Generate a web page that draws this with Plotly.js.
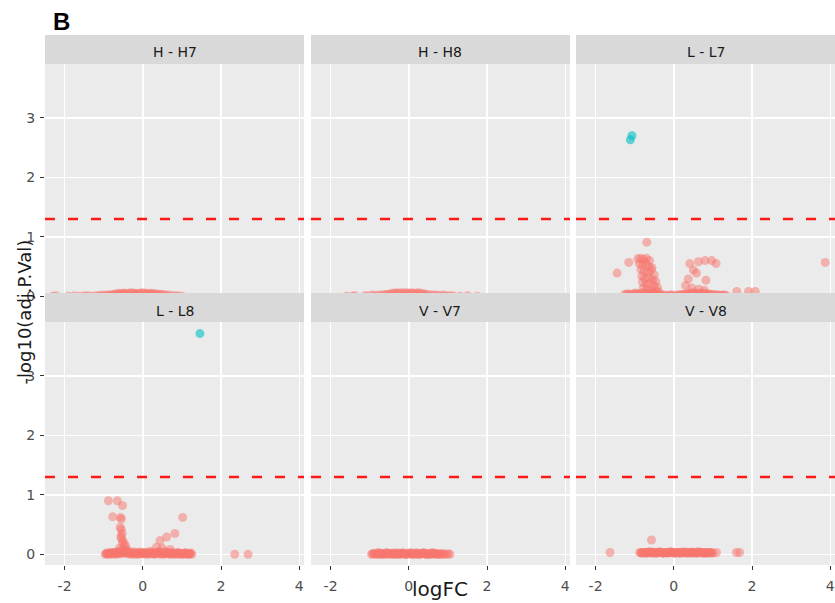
<!DOCTYPE html>
<html>
<head>
<meta charset="utf-8">
<script src="https://cdn.plot.ly/plotly-3.0.1.min.js"></script>
<style>html,body{margin:0;padding:0;background:#fff;}#chart{width:835px;height:603px;}</style>
</head>
<body>
<div id="chart"></div>
<script>
// ---------------- data ----------------
const panelNames = ["H - H7", "H - H8", "L - L7", "L - L8", "V - V7", "V - V8"];
const threshold = 1.3; // -log10(0.05)
const xTicks = [-2, 0, 2, 4];
const xTickText = ["-2", "0", "2", "4"];
const yTicks = [0, 1, 2, 3];

// H - H7 (not significant)
const hh7X = [-2.30,-2.22,-1.90,-1.75,-1.62,-1.50,-1.40,-1.30,-1.20,-1.12,-1.05,-0.98,-0.92,-0.86,-0.80,-0.75,-0.70,-0.65,-0.60,-0.55,-0.50,-0.45,-0.40,-0.35,-0.30,-0.25,-0.20,-0.15,-0.10,-0.05,0.00,0.05,0.10,0.15,0.20,0.25,0.30,0.35,0.40,0.45,0.50,0.58,0.66,0.74,0.82,0.90,1.00];
const hh7Y = [0.00,0.01,0.00,0.01,0.00,0.01,0.01,0.00,0.01,0.01,0.02,0.01,0.02,0.02,0.02,0.03,0.04,0.04,0.05,0.04,0.05,0.05,0.04,0.05,0.06,0.05,0.05,0.04,0.05,0.05,0.06,0.05,0.04,0.05,0.04,0.05,0.04,0.04,0.03,0.03,0.03,0.02,0.02,0.01,0.01,0.01,0.00];

// H - H8
const hh8X = [-1.59,-1.45,-1.38,-1.12,-1.02,-0.92,-0.84,-0.76,-0.68,-0.60,-0.54,-0.48,-0.42,-0.36,-0.30,-0.24,-0.18,-0.12,-0.06,0.00,0.06,0.12,0.18,0.24,0.30,0.36,0.41,0.48,0.56,0.64,0.72,0.80,0.88,0.96,1.04,1.13,1.31,1.50,1.75];
const hh8Y = [0.00,0.00,0.01,0.01,0.01,0.02,0.01,0.02,0.02,0.03,0.03,0.04,0.05,0.05,0.06,0.05,0.06,0.05,0.06,0.05,0.06,0.05,0.05,0.06,0.05,0.04,0.04,0.03,0.02,0.02,0.02,0.01,0.02,0.01,0.01,0.01,0.00,0.01,0.00];

// L - L7
const ll7X = [-1.45,-1.15,-0.69,-0.92,-0.85,-0.78,-0.70,-0.62,-0.88,-0.80,-0.72,-0.64,-0.56,-0.84,-0.76,-0.66,-0.58,-0.50,-0.82,-0.74,-0.64,-0.54,-0.46,-0.80,-0.70,-0.60,-0.50,-0.42,-0.78,-0.68,-0.56,-0.46,-0.38,0.41,0.63,0.80,0.97,1.08,0.50,0.58,0.37,0.82,0.30,0.46,0.64,0.78,3.87,1.61,1.91,2.08];
const ll7Y = [0.39,0.57,0.91,0.63,0.64,0.62,0.64,0.60,0.55,0.52,0.56,0.50,0.48,0.45,0.42,0.40,0.44,0.36,0.34,0.30,0.32,0.28,0.25,0.24,0.20,0.22,0.18,0.15,0.14,0.12,0.10,0.09,0.07,0.55,0.58,0.60,0.60,0.55,0.44,0.39,0.29,0.27,0.18,0.14,0.12,0.10,0.57,0.08,0.08,0.08];
const ll7BaseX = [-1.25,-1.15,-1.05,-0.95,-0.85,-0.75,-0.65,-0.55,-0.45,-0.35,-0.25,-0.15,-0.05,0.05,0.15,0.25,0.35,0.45,0.55,0.65,0.75,0.85,0.95,1.05,1.15,1.25,1.35];
const ll7BaseY = [0.03,0.04,0.03,0.05,0.04,0.05,0.04,0.05,0.03,0.02,0.02,0.01,0.02,0.01,0.02,0.03,0.04,0.05,0.04,0.05,0.04,0.03,0.03,0.02,0.02,0.02,0.01];
const ll7Base2X = [-1.20,-1.10,-1.00,-0.90,-0.80,-0.70,-0.60,-0.50,-0.40,-0.30,-0.20,-0.10,0.00,0.10,0.20,0.30,0.40,0.50,0.60,0.70,0.80,0.90,1.00,1.10,1.20,1.30];
const ll7Base2Y = [0.04,0.03,0.05,0.04,0.06,0.05,0.06,0.04,0.03,0.02,0.01,0.02,0.01,0.02,0.03,0.04,0.05,0.06,0.05,0.04,0.05,0.04,0.03,0.02,0.01,0.02];
const ll7SigX = [-1.11,-1.07];
const ll7SigY = [2.63,2.70];

// L - L8
const ll8X = [-0.88,-0.65,-0.52,-0.77,-0.57,-0.55,-0.58,-0.55,-0.53,-0.56,-0.55,-0.50,-0.52,-0.47,-0.45,-0.60,-0.40,1.02,0.44,0.61,0.82,0.35,0.50,0.70,2.35,2.69];
const ll8Y = [0.90,0.90,0.82,0.63,0.62,0.59,0.45,0.42,0.35,0.30,0.27,0.22,0.19,0.13,0.16,0.10,0.08,0.62,0.23,0.29,0.35,0.12,0.10,0.08,0.00,0.00];
const ll8BaseX = [-0.96,-0.90,-0.84,-0.78,-0.72,-0.66,-0.60,-0.54,-0.48,-0.42,-0.36,-0.30,-0.24,-0.18,-0.12,-0.06,0.00,0.06,0.12,0.18,0.24,0.30,0.36,0.42,0.48,0.54,0.60,0.66,0.72,0.78,0.84,0.90,0.96,1.02,1.08,1.14,1.20,1.25];
const ll8BaseY = [0.00,0.01,0.02,0.00,0.03,0.01,0.04,0.02,0.05,0.01,0.03,0.00,0.02,0.01,0.00,0.02,0.01,0.00,0.02,0.01,0.03,0.00,0.02,0.01,0.04,0.00,0.02,0.01,0.03,0.00,0.01,0.02,0.00,0.01,0.02,0.00,0.01,0.00];
const ll8Base2X = [-0.93,-0.87,-0.81,-0.75,-0.69,-0.63,-0.57,-0.51,-0.45,-0.39,-0.33,-0.27,-0.21,-0.15,-0.09,-0.03,0.03,0.09,0.15,0.21,0.27,0.33,0.39,0.45,0.51,0.57,0.63,0.69,0.75,0.81,0.87,0.93,0.99,1.05,1.11,1.17,1.23];
const ll8Base2Y = [0.02,0.00,0.01,0.03,0.00,0.02,0.01,0.06,0.02,0.04,0.01,0.03,0.00,0.02,0.04,0.01,0.03,0.02,0.00,0.03,0.01,0.02,0.04,0.00,0.02,0.01,0.03,0.00,0.02,0.01,0.00,0.02,0.01,0.00,0.02,0.01,0.02];
const ll8Base3X = [-0.92,-0.82,-0.72,-0.62,-0.52,-0.42,-0.32,-0.22,-0.12,-0.02,0.08,0.18,0.28,0.38,0.48,0.58,0.68,0.78,0.88,0.98,1.08,1.18];
const ll8Base3Y = [0.01,0.03,0.02,0.05,0.03,0.06,0.02,0.04,0.01,0.03,0.02,0.05,0.01,0.03,0.02,0.04,0.01,0.02,0.03,0.01,0.02,0.00];
const ll8SigX = [1.46];
const ll8SigY = [3.71];

// V - V7
const vv7X = [-0.95,-0.88,-0.80,-0.74,-0.68,-0.62,-0.56,-0.50,-0.44,-0.38,-0.32,-0.26,-0.20,-0.14,-0.08,-0.02,0.04,0.10,0.16,0.22,0.28,0.34,0.40,0.46,0.52,0.58,0.64,0.70,0.78,0.86,0.95,1.05];
const vv7Y = [0.00,0.01,0.00,0.02,0.01,0.00,0.02,0.01,0.00,0.01,0.02,0.00,0.01,0.02,0.00,0.01,0.02,0.00,0.01,0.02,0.00,0.01,0.02,0.00,0.01,0.02,0.00,0.01,0.00,0.01,0.00,0.00];
const vv7X2 = [-0.92,-0.84,-0.77,-0.71,-0.65,-0.59,-0.53,-0.47,-0.41,-0.35,-0.29,-0.23,-0.17,-0.11,-0.05,0.01,0.07,0.13,0.19,0.25,0.31,0.37,0.43,0.49,0.55,0.61,0.67,0.74,0.82,0.90,1.00];
const vv7Y2 = [0.01,0.00,0.02,0.00,0.01,0.02,0.00,0.01,0.02,0.00,0.01,0.00,0.02,0.01,0.00,0.02,0.00,0.01,0.02,0.00,0.01,0.02,0.00,0.01,0.00,0.02,0.01,0.00,0.01,0.00,0.01];
const vv7X3 = [-0.90,-0.81,-0.72,-0.63,-0.54,-0.45,-0.36,-0.27,-0.18,-0.09,0.00,0.09,0.18,0.27,0.36,0.45,0.54,0.63,0.72,0.81];
const vv7Y3 = [0.01,0.02,0.00,0.01,0.02,0.01,0.00,0.02,0.01,0.00,0.01,0.02,0.00,0.01,0.02,0.01,0.00,0.02,0.01,0.00];

// V - V8
const vv8X = [-1.63,-0.57,-0.87,-0.80,-0.74,-0.68,-0.62,-0.56,-0.50,-0.44,-0.38,-0.32,-0.26,-0.20,-0.14,-0.08,-0.02,0.04,0.10,0.16,0.22,0.28,0.34,0.40,0.46,0.52,0.58,0.64,0.70,0.76,0.82,0.88,0.94,1.00,1.09,1.60,1.68];
const vv8Y = [0.03,0.24,0.03,0.02,0.03,0.02,0.04,0.02,0.03,0.02,0.04,0.03,0.02,0.03,0.02,0.04,0.03,0.02,0.03,0.02,0.04,0.03,0.02,0.03,0.02,0.03,0.02,0.04,0.03,0.02,0.03,0.02,0.03,0.02,0.03,0.03,0.03];
const vv8X2 = [-0.84,-0.77,-0.71,-0.65,-0.59,-0.53,-0.47,-0.41,-0.35,-0.29,-0.23,-0.17,-0.11,-0.05,0.01,0.07,0.13,0.19,0.25,0.31,0.37,0.43,0.49,0.55,0.61,0.67,0.73,0.79,0.85,0.91,0.97];
const vv8Y2 = [0.02,0.03,0.02,0.04,0.02,0.03,0.02,0.03,0.04,0.02,0.03,0.02,0.03,0.04,0.02,0.03,0.02,0.03,0.02,0.04,0.03,0.02,0.03,0.02,0.04,0.03,0.02,0.03,0.02,0.03,0.02];
const vv8X3 = [-0.82,-0.73,-0.64,-0.55,-0.46,-0.37,-0.28,-0.19,-0.10,-0.01,0.08,0.17,0.26,0.35,0.44,0.53,0.62,0.71,0.80,0.89];
const vv8Y3 = [0.03,0.02,0.03,0.04,0.02,0.03,0.02,0.03,0.04,0.02,0.03,0.02,0.03,0.02,0.04,0.03,0.02,0.03,0.02,0.03];

// ---------------- layout helpers ----------------
const W = 835, H = 603;
const fx = p => p / W;
const fy = p => 1 - p / H;
const cols = [[45, 304], [311, 570], [576, 835]];
const rows = [[64, 307], [322, 565]];
const strips = [[35, 64], [293, 322]];
const xRange = [-2.5, 4.12];
const yRange = [-0.18, 3.905];

const RED = "#F8766D", CYAN = "#00BFC4";
const panelData = [
  { red: [hh7X, hh7Y], sig: null },
  { red: [hh8X, hh8Y], sig: null },
  { red: [ll7BaseX.concat(ll7Base2X, ll7X), ll7BaseY.concat(ll7Base2Y, ll7Y)], sig: [ll7SigX, ll7SigY] },
  { red: [ll8BaseX.concat(ll8Base2X, ll8Base3X, ll8X), ll8BaseY.concat(ll8Base2Y, ll8Base3Y, ll8Y)], sig: [ll8SigX, ll8SigY] },
  { red: [vv7X.concat(vv7X2, vv7X3), vv7Y.concat(vv7Y2, vv7Y3)], sig: null },
  { red: [vv8X.concat(vv8X2, vv8X3), vv8Y.concat(vv8Y2, vv8Y3)], sig: null }
];

const traces = [];
const layout = {
  width: W, height: H,
  margin: { l: 0, r: 0, t: 0, b: 0 },
  paper_bgcolor: "#ffffff",
  plot_bgcolor: "#ebebeb",
  showlegend: false,
  font: { family: "DejaVu Sans", color: "#4d4d4d", size: 14 },
  shapes: [],
  annotations: []
};

panelNames.forEach((name, i) => {
  const r = Math.floor(i / 3), c = i % 3;
  const n = i + 1;
  const xa = n === 1 ? "x" : "x" + n;
  const ya = n === 1 ? "y" : "y" + n;
  const xKey = n === 1 ? "xaxis" : "xaxis" + n;
  const yKey = n === 1 ? "yaxis" : "yaxis" + n;
  layout[xKey] = {
    domain: [fx(cols[c][0]), fx(cols[c][1])],
    anchor: ya, range: xRange, tickvals: xTicks, ticktext: xTickText,
    showgrid: true, gridcolor: "#ffffff", gridwidth: 1.5,
    zeroline: false, showline: false,
    ticks: r === 1 ? "outside" : "", ticklen: 4, tickcolor: "#333333",
    showticklabels: r === 1, ticklabelstandoff: 4,
    tickfont: { family: "DejaVu Sans", size: 14, color: "#4d4d4d" },
    fixedrange: true
  };
  layout[yKey] = {
    domain: [fy(rows[r][1]), fy(rows[r][0])],
    anchor: xa, range: yRange, tickvals: yTicks,
    showgrid: true, gridcolor: "#ffffff", gridwidth: 1.5,
    zeroline: false, showline: false,
    ticks: c === 0 ? "outside" : "", ticklen: 4, tickcolor: "#333333",
    showticklabels: c === 0, ticklabelstandoff: 2,
    tickfont: { family: "DejaVu Sans", size: 14, color: "#4d4d4d" },
    fixedrange: true
  };
  const d = panelData[i];
  traces.push({
    type: "scatter", mode: "markers", x: d.red[0], y: d.red[1],
    xaxis: xa, yaxis: ya, hoverinfo: "skip",
    marker: { color: RED, size: 9, opacity: 0.5, line: { width: 0 } }
  });
  if (d.sig) {
    traces.push({
      type: "scatter", mode: "markers", x: d.sig[0], y: d.sig[1],
      xaxis: xa, yaxis: ya, hoverinfo: "skip",
      marker: { color: CYAN, size: 9, opacity: 0.6, line: { width: 0 } }
    });
  }
  // threshold line
  layout.shapes.push({
    type: "line", xref: xa + " domain", yref: ya,
    x0: 0, x1: 1, y0: threshold, y1: threshold,
    line: { color: "#ff1a1a", width: 2.5, dash: "10px,13px" }, layer: "above"
  });
});

// strips (drawn above, so bottom-row strips cover the top row's lower edge)
panelNames.forEach((name, i) => {
  const r = Math.floor(i / 3), c = i % 3;
  layout.shapes.push({
    type: "rect", xref: "paper", yref: "paper",
    x0: fx(cols[c][0]), x1: fx(cols[c][1]),
    y0: fy(strips[r][1]), y1: fy(strips[r][0]),
    fillcolor: "#d9d9d9", line: { width: 0 }, layer: "above"
  });
  layout.annotations.push({
    xref: "paper", yref: "paper",
    x: fx((cols[c][0] + cols[c][1]) / 2), y: fy((strips[r][0] + strips[r][1]) / 2 + 3),
    xanchor: "center", yanchor: "middle", showarrow: false,
    text: name, font: { family: "DejaVu Sans", size: 14, color: "#1a1a1a" }
  });
});

// panel tag
layout.annotations.push({
  xref: "paper", yref: "paper", x: fx(61.5), y: fy(21.5),
  xanchor: "center", yanchor: "middle", showarrow: false,
  text: "<b>B</b>", font: { family: "Liberation Sans", size: 24, color: "#000000" }
});
// axis titles
layout.annotations.push({
  xref: "paper", yref: "paper", x: fx(24), y: fy(312.5),
  xanchor: "center", yanchor: "middle", showarrow: false, textangle: -90,
  text: "-log10(adj.P.Val)", font: { family: "DejaVu Sans", size: 18, color: "#1a1a1a" }
});
layout.annotations.push({
  xref: "paper", yref: "paper", x: fx(440), y: fy(589),
  xanchor: "center", yanchor: "middle", showarrow: false,
  text: "logFC", font: { family: "DejaVu Sans", size: 20, color: "#1a1a1a" }
});

Plotly.newPlot("chart", traces, layout, { staticPlot: true, displayModeBar: false });
</script>
</body>
</html>
